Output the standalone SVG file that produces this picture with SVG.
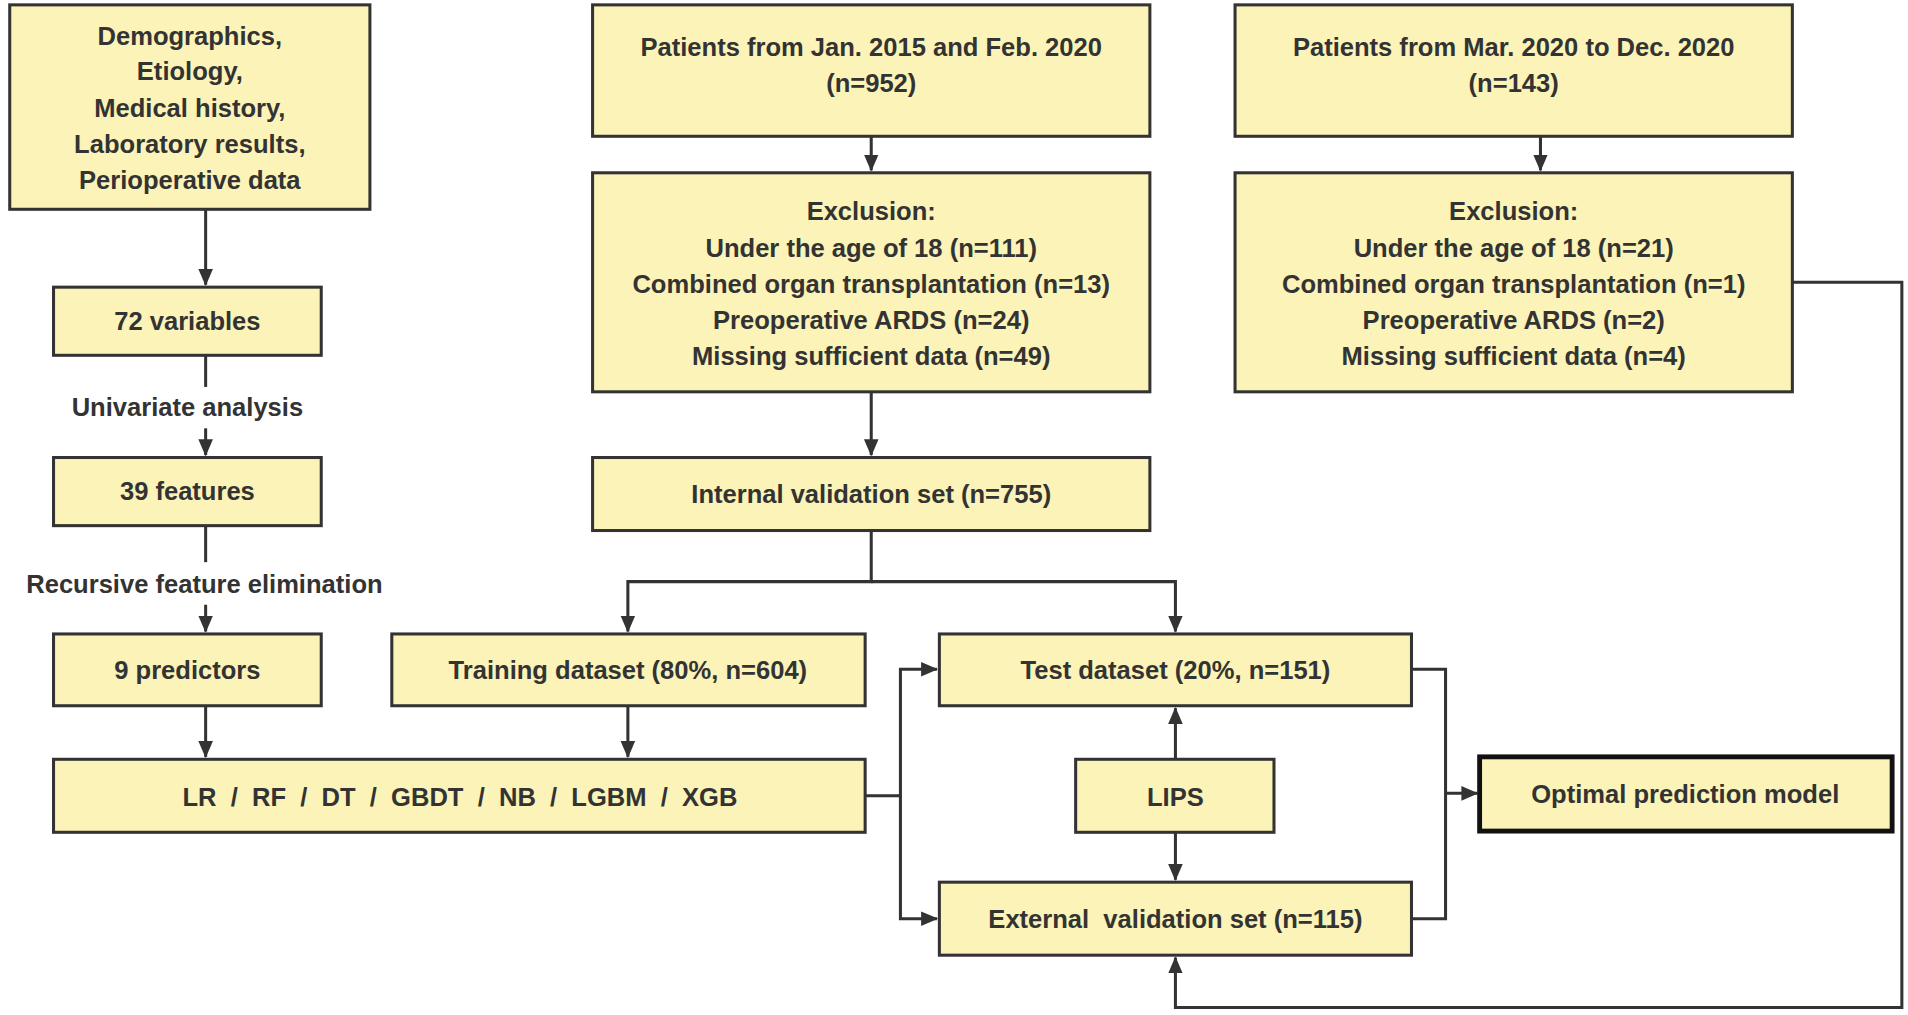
<svg xmlns="http://www.w3.org/2000/svg" width="1908" height="1015" viewBox="0 0 1908 1015">
<defs>
<style>
.b{fill:#FBF3B7;stroke:#333;stroke-width:2.5}
.t{font-family:"Liberation Sans",Arial,sans-serif;font-weight:bold;font-size:21px;fill:#333;text-anchor:middle}
.c{fill:none;stroke:#333;stroke-width:2.5}
</style>
<marker id="a" markerWidth="14" markerHeight="14" refX="13" refY="7" orient="auto" markerUnits="userSpaceOnUse" viewBox="0 0 14 14"><path d="M0,1L14,7L0,13z" fill="#333"/></marker>
</defs>
<rect width="1908" height="1015" fill="#fff"/>
<g transform="scale(1.2168)">
<g id="connectors">
<path class="c" d="M169,172V234" marker-end="url(#a)"/>
<path class="c" d="M169,292V318"/>
<path class="c" d="M169,352V374" marker-end="url(#a)"/>
<path class="c" d="M169,432V462"/>
<path class="c" d="M169,497V519" marker-end="url(#a)"/>
<path class="c" d="M716,112V140" marker-end="url(#a)"/>
<path class="c" d="M1266,112V140" marker-end="url(#a)"/>
<path class="c" d="M716,322V374" marker-end="url(#a)"/>
<path class="c" d="M716,436V478H516V519" marker-end="url(#a)"/>
<path class="c" d="M716,478H966V519" marker-end="url(#a)"/>
<path class="c" d="M169,580V622" marker-end="url(#a)"/>
<path class="c" d="M516,580V622" marker-end="url(#a)"/>
<path class="c" d="M711,654H740V550H770" marker-end="url(#a)"/>
<path class="c" d="M740,654V755H770" marker-end="url(#a)"/>
<path class="c" d="M966,624V582" marker-end="url(#a)"/>
<path class="c" d="M966,684V723" marker-end="url(#a)"/>
<path class="c" d="M1160,550H1188V755H1160"/>
<path class="c" d="M1188,652H1214" marker-end="url(#a)"/>
<path class="c" d="M1473,232H1563V828H966V787" marker-end="url(#a)"/>
</g>
<g id="n1"><rect class="b" x="8" y="4" width="296" height="168"/>
<text class="t" x="156" y="37">Demographics,</text><text class="t" x="156" y="66">Etiology,</text><text class="t" x="156" y="96">Medical history,</text><text class="t" x="156" y="126">Laboratory results,</text><text class="t" x="156" y="155">Perioperative data</text></g>
<g id="n2"><rect class="b" x="487" y="4" width="458" height="108"/><text class="t" x="716" y="46">Patients from Jan. 2015 and Feb. 2020</text><text class="t" x="716" y="76">(n=952)</text></g>
<g id="n3"><rect class="b" x="1015" y="4" width="458" height="108"/><text class="t" x="1244" y="46">Patients from Mar. 2020 to Dec. 2020</text><text class="t" x="1244" y="76">(n=143)</text></g>
<g id="n4"><rect class="b" x="487" y="142" width="458" height="180"/>
<text class="t" x="716" y="181">Exclusion:</text><text class="t" x="716" y="211">Under the age of 18 (n=111)</text><text class="t" x="716" y="241">Combined organ transplantation (n=13)</text><text class="t" x="716" y="270">Preoperative ARDS (n=24)</text><text class="t" x="716" y="300">Missing sufficient data (n=49)</text></g>
<g id="n5"><rect class="b" x="1015" y="142" width="458" height="180"/>
<text class="t" x="1244" y="181">Exclusion:</text><text class="t" x="1244" y="211">Under the age of 18 (n=21)</text><text class="t" x="1244" y="241">Combined organ transplantation (n=1)</text><text class="t" x="1244" y="270">Preoperative ARDS (n=2)</text><text class="t" x="1244" y="300">Missing sufficient data (n=4)</text></g>
<g id="n6"><rect class="b" x="44" y="236" width="220" height="56"/><text class="t" x="154" y="271">72 variables</text></g>
<text class="t" x="154" y="342">Univariate analysis</text>
<g id="n7"><rect class="b" x="44" y="376" width="220" height="56"/><text class="t" x="154" y="411">39 features</text></g>
<text class="t" x="168" y="487">Recursive feature elimination</text>
<g id="n8"><rect class="b" x="487" y="376" width="458" height="60"/><text class="t" x="716" y="413">Internal validation set (n=755)</text></g>
<g id="n9"><rect class="b" x="44" y="521" width="220" height="59"/><text class="t" x="154" y="558">9 predictors</text></g>
<g id="n10"><rect class="b" x="322" y="521" width="389" height="59"/><text class="t" x="516" y="558">Training dataset (80%, n=604)</text></g>
<g id="n11"><rect class="b" x="772" y="521" width="388" height="59"/><text class="t" x="966" y="558">Test dataset (20%, n=151)</text></g>
<g id="n12"><rect class="b" x="44" y="624" width="667" height="60"/><text class="t" x="378" y="662" xml:space="preserve">LR  /  RF  /  DT  /  GBDT  /  NB  /  LGBM  /  XGB</text></g>
<g id="n13"><rect class="b" x="884" y="624" width="163" height="60"/><text class="t" x="966" y="662">LIPS</text></g>
<g id="n14"><rect class="b" x="1216" y="622" width="339" height="61" style="stroke:#111;stroke-width:4"/><text class="t" x="1385" y="660">Optimal prediction model</text></g>
<g id="n15"><rect class="b" x="772" y="725" width="388" height="60"/><text class="t" x="966" y="763" xml:space="preserve">External  validation set (n=115)</text></g>
</g>
</svg>
